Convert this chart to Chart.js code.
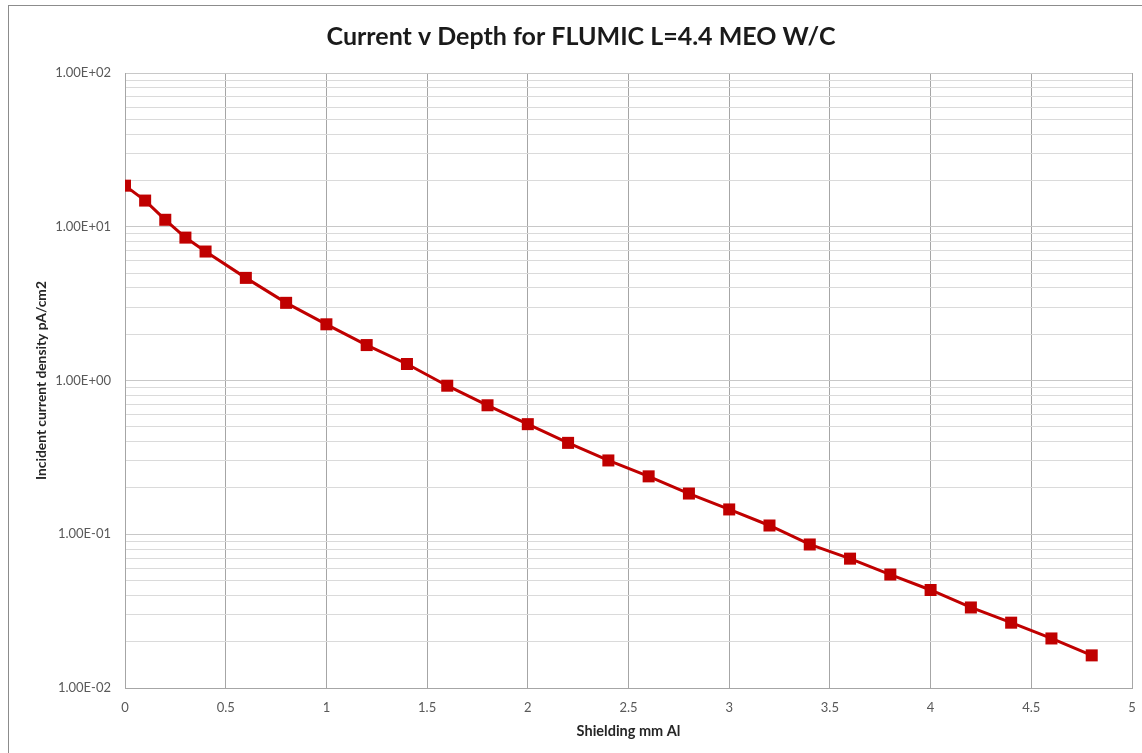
<!DOCTYPE html>
<html>
<head>
<meta charset="utf-8">
<script src="https://cdn.jsdelivr.net/npm/chart.js@4.4.1/dist/chart.umd.min.js"></script>
<style>
  html, body { margin: 0; padding: 0; background: #ffffff; overflow: hidden; width: 1142px; height: 753px; }
  #frame { position: absolute; left: 8px; top: 5px; width: 1200px; height: 800px; border: 1px solid #8c8c8c; box-sizing: border-box; }
  #wrap { position: absolute; left: 0; top: 0; width: 1162px; height: 753px; }
</style>
</head>
<body>
<div id="frame"></div>
<div id="wrap"><canvas id="c" width="1162" height="753"></canvas></div>
<script>
const chartTitle = 'Current v Depth for FLUMIC L=4.4 MEO W/C';
const xTitle = 'Shielding mm Al';
const yTitle = 'Incident current density pA/cm2';

const depth = [0, 0.1, 0.2, 0.3, 0.4, 0.6, 0.8, 1.0, 1.2, 1.4, 1.6, 1.8, 2.0, 2.2, 2.4, 2.6, 2.8, 3.0, 3.2, 3.4, 3.6, 3.8, 4.0, 4.2, 4.4, 4.6, 4.8];
const current = [18.5, 14.8, 11.1, 8.5, 6.9, 4.65, 3.2, 2.32, 1.70, 1.28, 0.925, 0.69, 0.52, 0.393, 0.302, 0.238, 0.184, 0.145, 0.114, 0.0858, 0.0694, 0.0547, 0.0434, 0.0334, 0.0266, 0.0210, 0.0163];

const yDecades = [0.01, 0.1, 1, 10, 100];
const yTickLabels = ['1.00E-02', '1.00E-01', '1.00E+00', '1.00E+01', '1.00E+02'];
const yMinorMultipliers = [1, 2, 3, 4, 5, 6, 7, 8, 9];

const FONT = 'Lato, "Open Sans", sans-serif';

function isMajor(v) {
  return yDecades.some(d => Math.abs(v - d) / d < 1e-6);
}

const points = depth.map((x, i) => ({ x: x, y: current[i] }));

new Chart(document.getElementById('c'), {
  type: 'line',
  data: {
    datasets: [{
      data: points,
      borderColor: '#c00000',
      backgroundColor: '#c00000',
      borderWidth: 3,
      pointStyle: 'rect',
      pointRadius: 8.5,
      pointHoverRadius: 8.5,
      pointBorderWidth: 0,
      tension: 0,
      fill: false
    }]
  },
  options: {
    responsive: false,
    animation: false,
    layout: { autoPadding: false, padding: { left: 30, right: 30, top: 0, bottom: 0 } },
    plugins: {
      legend: { display: false },
      tooltip: { enabled: false },
      title: {
        display: true,
        text: chartTitle,
        color: '#1a1a1a',
        font: { family: FONT, size: 25, weight: 'bold' },
        padding: { top: 22, bottom: 21 }
      }
    },
    scales: {
      x: {
        type: 'linear',
        min: 0,
        max: 5,
        ticks: {
          stepSize: 0.5,
          color: '#595959',
          font: { family: FONT, size: 13 },
          padding: 12,
          maxRotation: 0,
          autoSkip: false,
          callback(value) { return String(Math.round(value * 10) / 10); }
        },
        grid: { color: '#a6a6a6', lineWidth: 1, drawTicks: false },
        border: { display: true, color: '#a6a6a6' },
        title: {
          display: true,
          text: xTitle,
          color: '#262626',
          font: { family: FONT, size: 14.5, weight: 'bold' },
          padding: { top: 6, bottom: 13 }
        },
        afterFit(scale) { scale.height = 65; }
      },
      y: {
        type: 'logarithmic',
        min: 0.01,
        max: 100,
        afterBuildTicks(scale) {
          const t = [];
          for (let d = 0; d < yDecades.length - 1; d++) {
            for (const m of yMinorMultipliers) t.push({ value: yDecades[d] * m });
          }
          t.push({ value: yDecades[yDecades.length - 1] });
          scale.ticks = t;
        },
        ticks: {
          autoSkip: false,
          color: '#595959',
          font: { family: FONT, size: 13 },
          padding: 14,
          callback(value) {
            const idx = yDecades.findIndex(d => Math.abs(value - d) / d < 1e-6);
            return idx >= 0 ? yTickLabels[idx] : '';
          }
        },
        grid: {
          drawTicks: false,
          lineWidth: 1,
          color(ctx) { return (ctx.tick && isMajor(ctx.tick.value)) ? '#c8c8c8' : '#dadada'; }
        },
        border: { display: true, color: '#a6a6a6' },
        title: {
          display: true,
          text: yTitle,
          color: '#262626',
          font: { family: FONT, size: 13.8, weight: 'bold' },
          padding: { top: 3, bottom: 0 }
        },
        afterFit(scale) { scale.width = 95; }
      }
    }
  }
});
</script>
</body>
</html>
